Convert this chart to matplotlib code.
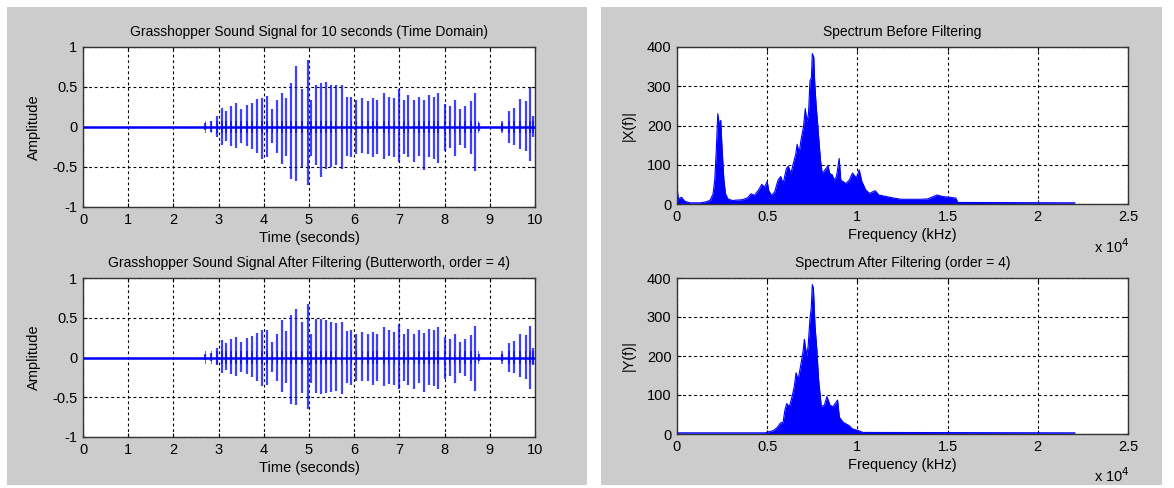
import numpy as np
import matplotlib.pyplot as plt
from matplotlib.patches import Rectangle

plt.rcParams['font.family'] = ['Liberation Sans', 'DejaVu Sans']

# Datos ──────────────────────────────────────────────────────────────────

t_range = [0, 10]

click_t = [2.71, 2.84, 2.96, 3.07, 3.17, 3.27, 3.38, 3.50, 3.63, 3.74, 3.84, 3.96, 4.07,
           4.19, 4.30, 4.40, 4.50, 4.60, 4.71, 4.84, 4.97, 5.05, 5.16, 5.26, 5.38, 5.49,
           5.59, 5.72, 5.83, 5.94, 6.05, 6.18, 6.30, 6.41, 6.51, 6.66, 6.76, 6.89, 7.00,
           7.10, 7.20, 7.33, 7.43, 7.55, 7.66, 7.76, 7.86, 8.00, 8.11, 8.22, 8.33, 8.45,
           8.58, 8.68, 8.75, 9.27, 9.42, 9.53, 9.67, 9.79, 9.89, 9.95]

raw_pos = [0.05, 0.07, 0.14, 0.24, 0.20, 0.26, 0.30, 0.22, 0.28, 0.30, 0.35, 0.36, 0.39,
           0.22, 0.34, 0.43, 0.36, 0.55, 0.76, 0.48, 0.84, 0.34, 0.52, 0.55, 0.56, 0.53,
           0.52, 0.53, 0.38, 0.38, 0.34, 0.36, 0.32, 0.36, 0.34, 0.43, 0.38, 0.36, 0.48,
           0.34, 0.40, 0.34, 0.38, 0.34, 0.40, 0.38, 0.43, 0.29, 0.26, 0.34, 0.22, 0.26,
           0.32, 0.43, 0.05, 0.05, 0.20, 0.24, 0.35, 0.32, 0.49, 0.14]
raw_neg = [-0.04, -0.06, -0.12, -0.22, -0.18, -0.24, -0.26, -0.20, -0.24, -0.28, -0.33, -0.40, -0.38,
           -0.20, -0.32, -0.46, -0.36, -0.65, -0.68, -0.50, -0.73, -0.36, -0.48, -0.63, -0.52, -0.50,
           -0.48, -0.52, -0.36, -0.38, -0.34, -0.32, -0.34, -0.38, -0.34, -0.40, -0.36, -0.38, -0.44,
           -0.34, -0.38, -0.44, -0.36, -0.54, -0.38, -0.40, -0.45, -0.30, -0.26, -0.36, -0.22, -0.26,
           -0.34, -0.55, -0.05, -0.05, -0.20, -0.22, -0.28, -0.30, -0.43, -0.12]

filt_pos = [0.04, 0.06, 0.12, 0.22, 0.18, 0.23, 0.26, 0.20, 0.25, 0.27, 0.31, 0.34, 0.35,
            0.20, 0.30, 0.47, 0.33, 0.53, 0.61, 0.45, 0.67, 0.30, 0.49, 0.48, 0.47, 0.45,
            0.44, 0.45, 0.33, 0.34, 0.30, 0.32, 0.29, 0.32, 0.30, 0.38, 0.34, 0.32, 0.42,
            0.30, 0.36, 0.30, 0.34, 0.31, 0.36, 0.34, 0.38, 0.26, 0.23, 0.30, 0.20, 0.23,
            0.28, 0.40, 0.04, 0.04, 0.18, 0.21, 0.30, 0.28, 0.40, 0.12]
filt_neg = [-0.03, -0.05, -0.10, -0.20, -0.16, -0.21, -0.23, -0.18, -0.21, -0.25, -0.29, -0.36, -0.34,
            -0.18, -0.29, -0.44, -0.32, -0.58, -0.60, -0.45, -0.65, -0.32, -0.45, -0.46, -0.45, -0.43,
            -0.42, -0.46, -0.32, -0.34, -0.30, -0.29, -0.30, -0.34, -0.30, -0.36, -0.33, -0.34, -0.40,
            -0.30, -0.34, -0.39, -0.32, -0.44, -0.34, -0.36, -0.40, -0.27, -0.23, -0.32, -0.20, -0.23,
            -0.30, -0.42, -0.04, -0.04, -0.18, -0.20, -0.25, -0.27, -0.40, -0.10]

freq_x = [0, 75, 245, 430, 715, 1280, 1650, 1840, 2000, 2090, 2180, 2260, 2350, 2425, 2500,
          2600, 2690, 2820, 3065, 3350, 3630, 3910, 4100, 4290, 4510, 4700, 4850, 5000,
          5080, 5230, 5410, 5600, 5750, 5880, 6070, 6170, 6320, 6450, 6580, 6660, 6770,
          6880, 7010, 7110, 7200, 7290, 7370, 7450, 7500, 7580, 7630, 7710, 7780, 7860,
          7950, 8050, 8140, 8270, 8370, 8460, 8610, 8700, 8840, 8990, 9080, 9210, 9360,
          9550, 9730, 9940, 10100, 10250, 10460, 10670, 10980, 11190, 11600, 12020,
          12440, 12850, 13480, 13900, 14410, 14730, 15140, 15460, 15560, 22050]
mag_x = [43, 13, 17, 7, 3, 3, 6, 10, 26, 61, 139, 230, 200, 213, 139,
         61, 26, 13, 9, 10, 11, 16, 26, 22, 35, 50, 43, 57,
         35, 22, 30, 61, 70, 52, 91, 96, 78, 104, 126, 152, 130,
         165, 196, 243, 209, 230, 313, 322, 383, 374, 313, 252, 213, 165,
         113, 78, 83, 91, 97, 78, 74, 61, 70, 116, 61, 57, 52,
         61, 79, 66, 87, 57, 36, 27, 34, 23, 19, 15,
         12, 12, 12, 13, 23, 19, 17, 15, 4, 3]

freq_y = [0, 4900, 4940, 5350, 5560, 5730, 5880, 5980, 6080, 6230, 6400, 6500, 6600, 6710,
          6850, 6980, 7060, 7190, 7270, 7370, 7440, 7500, 7560, 7650, 7750, 7850, 8000,
          8170, 8310, 8480, 8650, 8900, 9000, 9210, 9520, 9730, 10040, 10310, 22050]
mag_y = [3, 3, 4, 9, 17, 28, 30, 61, 78, 70, 100, 122, 157, 139,
         174, 209, 243, 200, 226, 296, 322, 383, 374, 278, 217, 139, 70,
         74, 96, 74, 70, 87, 43, 30, 22, 13, 9, 4, 3]

f_ticks = [0, 5000, 10000, 15000, 20000, 25000]
f_labels = ['0', '0.5', '1', '1.5', '2', '2.5']

# Figura ──────────────────────────────────────────────

W, H = 1174, 488
fig = plt.figure(figsize=(W / 100, H / 100), dpi=100, facecolor='white')

for x0, x1 in [(7, 587), (601, 1162)]:
    fig.patches.append(Rectangle((x0 / W, 1 - 485 / H), (x1 - x0) / W, 478 / H,
                                 transform=fig.transFigure, facecolor='#cccccc',
                                 edgecolor='none', zorder=-5))


def mk_ax(l, r, t, b):
    ax = fig.add_axes([l / W, 1 - b / H, (r - l) / W, (b - t) / H])
    ax.set_facecolor('white')
    ax.set_axisbelow(True)
    ax.grid(True, color='black', ls=(0, (2.5, 2.5)), lw=0.8)
    ax.tick_params(direction='in', length=3, top=True, right=True,
                   labelsize=10.5, pad=4, width=0.8)
    for s in ax.spines.values():
        s.set_linewidth(1.0)
        s.set_color('#333333')
    return ax


def time_ax(ax, pos, neg, title):
    ax.plot(t_range, [0, 0], color='blue', lw=1.8)
    ax.bar(click_t, 0.16, bottom=-0.08, width=0.035, color='blue', alpha=0.6, lw=0)
    ax.vlines(click_t, neg, pos, color='blue', lw=1.6, alpha=0.75)
    ax.set_xlim(0, 10)
    ax.set_ylim(-1, 1)
    ax.set_xticks(range(11))
    ax.set_yticks([-1, -0.5, 0, 0.5, 1])
    ax.set_yticklabels(['-1', '-0.5', '0', '0.5', '1'])
    ax.set_title(title, fontsize=10, pad=8)
    ax.set_xlabel('Time (seconds)', fontsize=10.5, labelpad=3)
    ax.set_ylabel('Amplitude', fontsize=10.5, labelpad=8)


def spec_ax(ax, f, m, title, ylab):
    ax.fill_between(f, 0, m, color='blue', lw=0)
    ax.plot(f, m, color='blue', lw=0.8)
    ax.set_xlim(0, 25000)
    ax.set_ylim(0, 400)
    ax.set_xticks(f_ticks)
    ax.set_xticklabels(f_labels)
    ax.set_yticks([0, 100, 200, 300, 400])
    ax.set_title(title, fontsize=10, pad=8)
    ax.set_xlabel('Frequency (kHz)', fontsize=10.5, labelpad=3)
    ax.set_ylabel(ylab, fontsize=10.5, labelpad=8)
    ax.text(0.925, -0.27, r'x 10$^{4}$', transform=ax.transAxes, fontsize=10.5,
            ha='left', va='center')


ax1 = mk_ax(83, 535, 47, 207)
time_ax(ax1, raw_pos, raw_neg, 'Grasshopper Sound Signal for 10 seconds (Time Domain)')
ax2 = mk_ax(83, 535, 278, 437)
time_ax(ax2, filt_pos, filt_neg, 'Grasshopper Sound Signal After Filtering (Butterworth, order = 4)')
ax3 = mk_ax(677, 1128, 47, 204)
spec_ax(ax3, freq_x, mag_x, 'Spectrum Before Filtering', '|X(f)|')
ax4 = mk_ax(677, 1128, 278, 434)
spec_ax(ax4, freq_y, mag_y, 'Spectrum After Filtering (order = 4)', '|Y(f)|')

fig.savefig('out.png', dpi=100)
